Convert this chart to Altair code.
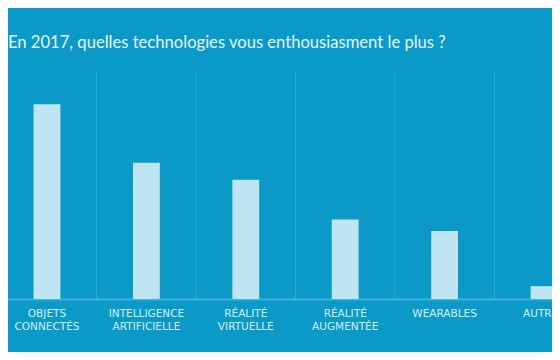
import altair as alt
import pandas as pd

categories = ["OBJETS CONNECTÉS", "INTELLIGENCE ARTIFICIELLE", "RÉALITÉ VIRTUELLE",
              "RÉALITÉ AUGMENTÉE", "WEARABLES", "AUTRES"]
values = [51.5, 36, 31.5, 21, 18, 3.4]
title_text = "En 2017, quelles technologies vous enthousiasment le plus ?"

df = pd.DataFrame({"cat": categories, "val": values})

BG = "#0b9ac7"
xscale = alt.Scale(range=[-10.7, 585.7], paddingInner=0.73, paddingOuter=0.365)

grid = alt.Chart(df).mark_rule(color="#2ea9d2", strokeWidth=1, xOffset=-49.7).encode(
    x=alt.X("cat:N", sort=None, scale=xscale, title=None),
)

bars = alt.Chart(df).mark_bar(color="#bfe5f2").encode(
    x=alt.X("cat:N", sort=None, title=None, scale=xscale,
            axis=alt.Axis(labelExpr="split(datum.label, ' ')", labelAngle=0,
                          labelAlign="center",
                          labelFont="DejaVu Sans", labelFontSize=10.5, labelColor="#d4eff8",
                          labelLineHeight=13, labelPadding=14, ticks=False,
                          domainColor="#3db2d9", domainWidth=2, grid=False,
                          labelBound=False, labelOverlap=False)),
    y=alt.Y("val:Q", title=None, scale=alt.Scale(domain=[0, 60]), axis=None),
)

chart = alt.layer(grid, bars).properties(
    width=544, height=227,
    autosize=alt.AutoSizeParams(type="none"),
    padding={"left": 0, "top": 64, "right": 0, "bottom": 53},
    background=BG,
    title=alt.TitleParams(title_text, anchor="start", frame="group", dx=0, offset=20,
                          font="Lato", fontSize=16.6, fontWeight="normal", color="#e6f5fb"),
).configure_view(stroke=None)

chart.save("out.html", embed_options={"renderer": "svg", "actions": False})
